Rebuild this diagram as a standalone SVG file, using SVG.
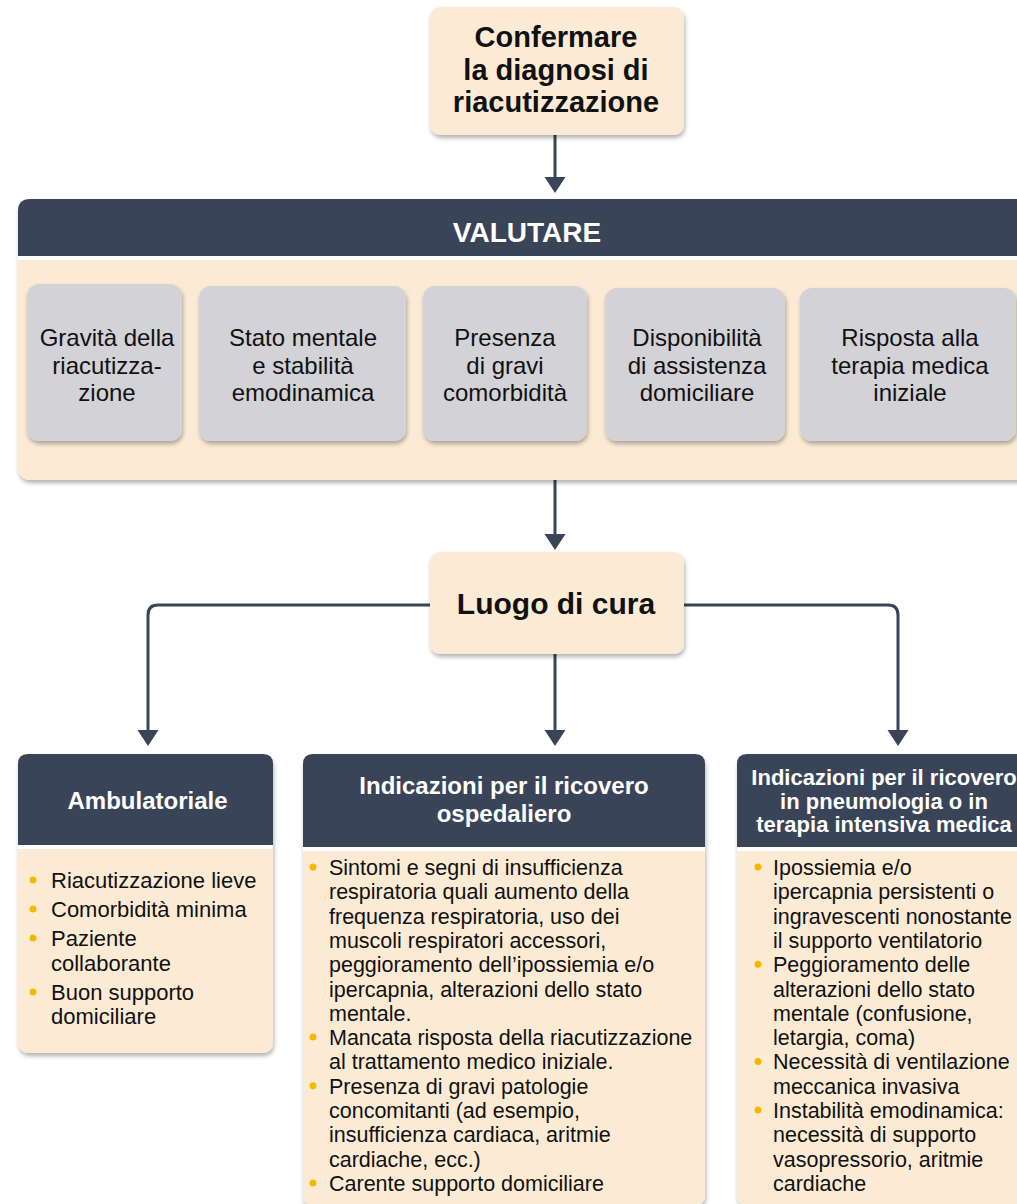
<svg xmlns="http://www.w3.org/2000/svg" width="1017" height="1204" viewBox="0 0 1017 1204">
<style>
text{font-family:"Liberation Sans",Arial,Helvetica,sans-serif;fill:#111}
.b{font-weight:bold}
.w{fill:#fff;font-weight:bold}
.c{text-anchor:middle}
.cream{fill:#fbebd5}
.navy{fill:#3a4459}
.grey{fill:#d3d2d7}
.t22{font-size:22px}
.t21{font-size:21.5px}
.t24{font-size:24px}
.dot{fill:#f5b800}
.con{fill:none;stroke:#3a4459;stroke-width:3;marker-end:url(#ah)}
</style>
<defs>
<filter id="sh" x="-10%" y="-10%" width="125%" height="130%"><feDropShadow dx="1" dy="3" stdDeviation="2" flood-color="#000" flood-opacity="0.3"/></filter>
<marker id="ah" markerUnits="userSpaceOnUse" markerWidth="17" markerHeight="22" viewBox="0 -11 17 22" refX="12" refY="0" orient="auto"><path d="M0,-10.5 L16,0 L0,10.5 Z" fill="#3a4459"/></marker>
</defs>
<rect width="1017" height="1204" fill="#fff"/>

<g id="connectors">
<path class="con" d="M555,135 V189"/>
<path class="con" d="M555,480 V546"/>
<path class="con" d="M430,605 H158 Q148,605 148,615 V742"/>
<path class="con" d="M684,605 H888 Q898,605 898,615 V742"/>
<path class="con" d="M555,654 V742"/>
</g>

<g id="confermare">
<rect class="cream" x="430" y="7" width="254" height="128" rx="10" filter="url(#sh)"/>
<text class="b c" x="556" y="47" font-size="29">Confermare</text>
<text class="b c" x="556" y="79.5" font-size="29">la diagnosi di</text>
<text class="b c" x="556" y="112" font-size="29">riacutizzazione</text>
</g>

<g id="valutare">
<rect class="cream" x="18" y="199" width="1030" height="281" rx="12" filter="url(#sh)"/>
<rect x="18" y="256" width="1030" height="4" fill="#fff"/>
<path class="navy" d="M18,256 V211 Q18,199 30,199 H1048 V256 Z"/>
<text class="w c" x="527" y="242" font-size="28">VALUTARE</text>
</g>

<g id="gravita">
<rect class="grey" x="27" y="284" width="155" height="157" rx="12" filter="url(#sh)"/>
<text class="c t24" x="107" y="346">Gravità della</text>
<text class="c t24" x="107" y="373.5">riacutizza-</text>
<text class="c t24" x="107" y="401">zione</text>
</g>
<g id="stato">
<rect class="grey" x="199" y="286" width="207" height="155" rx="12" filter="url(#sh)"/>
<text class="c t24" x="303" y="346">Stato mentale</text>
<text class="c t24" x="303" y="373.5">e stabilità</text>
<text class="c t24" x="303" y="401">emodinamica</text>
</g>
<g id="presenza">
<rect class="grey" x="423" y="286" width="164" height="155" rx="12" filter="url(#sh)"/>
<text class="c t24" x="505" y="346">Presenza</text>
<text class="c t24" x="505" y="373.5">di gravi</text>
<text class="c t24" x="505" y="401">comorbidità</text>
</g>
<g id="disponibilita">
<rect class="grey" x="605" y="288" width="180" height="153" rx="12" filter="url(#sh)"/>
<text class="c t24" x="697" y="346">Disponibilità</text>
<text class="c t24" x="697" y="373.5">di assistenza</text>
<text class="c t24" x="697" y="401">domiciliare</text>
</g>
<g id="risposta">
<rect class="grey" x="800" y="288" width="216" height="153" rx="12" filter="url(#sh)"/>
<text class="c t24" x="910" y="346">Risposta alla</text>
<text class="c t24" x="910" y="373.5">terapia medica</text>
<text class="c t24" x="910" y="401">iniziale</text>
</g>

<g id="luogo">
<rect class="cream" x="430" y="552" width="254" height="102" rx="10" filter="url(#sh)"/>
<text class="b c" x="556" y="614" font-size="30">Luogo di cura</text>
</g>

<g id="ambulatoriale">
<rect class="cream" x="18" y="754" width="255" height="299" rx="10" filter="url(#sh)"/>
<rect x="18" y="845" width="255" height="4" fill="#fff"/>
<path class="navy" d="M18,845 V764 Q18,754 28,754 H263 Q273,754 273,764 V845 Z"/>
<text class="w c" x="147.5" y="809" font-size="24">Ambulatoriale</text>
<circle class="dot" cx="33" cy="880" r="3.5"/>
<circle class="dot" cx="33" cy="909" r="3.5"/>
<circle class="dot" cx="33" cy="938" r="3.5"/>
<circle class="dot" cx="33" cy="992" r="3.5"/>
<text class="t22" x="51" y="888">Riacutizzazione lieve</text>
<text class="t22" x="51" y="917">Comorbidità minima</text>
<text class="t22" x="51" y="946">Paziente</text>
<text class="t22" x="51" y="971">collaborante</text>
<text class="t22" x="51" y="1000">Buon supporto</text>
<text class="t22" x="51" y="1024">domiciliare</text>
</g>

<g id="ospedaliero">
<rect class="cream" x="303" y="754" width="402" height="452" rx="10" filter="url(#sh)"/>
<rect x="303" y="847" width="402" height="4" fill="#fff"/>
<path class="navy" d="M303,847 V764 Q303,754 313,754 H695 Q705,754 705,764 V847 Z"/>
<text class="w c" x="504" y="794" font-size="24">Indicazioni per il ricovero</text>
<text class="w c" x="504" y="822" font-size="24">ospedaliero</text>
<circle class="dot" cx="313" cy="867" r="3.5"/>
<circle class="dot" cx="313" cy="1037.1" r="3.5"/>
<circle class="dot" cx="313" cy="1085.7" r="3.5"/>
<circle class="dot" cx="313" cy="1182.9" r="3.5"/>
<text class="t21" x="329" y="875">Sintomi e segni di insufficienza</text>
<text class="t21" x="329" y="899.3">respiratoria quali aumento della</text>
<text class="t21" x="329" y="923.6">frequenza respiratoria, uso dei</text>
<text class="t21" x="329" y="947.9">muscoli respiratori accessori,</text>
<text class="t21" x="329" y="972.2">peggioramento dell’ipossiemia e/o</text>
<text class="t21" x="329" y="996.5">ipercapnia, alterazioni dello stato</text>
<text class="t21" x="329" y="1020.8">mentale.</text>
<text class="t21" x="329" y="1045.1">Mancata risposta della riacutizzazione</text>
<text class="t21" x="329" y="1069.4">al trattamento medico iniziale.</text>
<text class="t21" x="329" y="1093.7">Presenza di gravi patologie</text>
<text class="t21" x="329" y="1118">concomitanti (ad esempio,</text>
<text class="t21" x="329" y="1142.3">insufficienza cardiaca, aritmie</text>
<text class="t21" x="329" y="1166.6">cardiache, ecc.)</text>
<text class="t21" x="329" y="1190.9">Carente supporto domiciliare</text>
</g>

<g id="pneumologia">
<rect class="cream" x="737" y="754" width="310" height="452" rx="10" filter="url(#sh)"/>
<rect x="737" y="847" width="310" height="4" fill="#fff"/>
<path class="navy" d="M737,847 V764 Q737,754 747,754 H1047 V847 Z"/>
<text class="w c" x="884" y="785" font-size="22">Indicazioni per il ricovero</text>
<text class="w c" x="884" y="809" font-size="22">in pneumologia o in</text>
<text class="w c" x="884" y="832" font-size="22">terapia intensiva medica</text>
<circle class="dot" cx="758" cy="867" r="3.5"/>
<circle class="dot" cx="758" cy="964.2" r="3.5"/>
<circle class="dot" cx="758" cy="1061.4" r="3.5"/>
<circle class="dot" cx="758" cy="1110" r="3.5"/>
<text class="t21" x="773" y="875">Ipossiemia e/o</text>
<text class="t21" x="773" y="899.3">ipercapnia persistenti o</text>
<text class="t21" x="773" y="923.6">ingravescenti nonostante</text>
<text class="t21" x="773" y="947.9">il supporto ventilatorio</text>
<text class="t21" x="773" y="972.2">Peggioramento delle</text>
<text class="t21" x="773" y="996.5">alterazioni dello stato</text>
<text class="t21" x="773" y="1020.8">mentale (confusione,</text>
<text class="t21" x="773" y="1045.1">letargia, coma)</text>
<text class="t21" x="773" y="1069.4">Necessità di ventilazione</text>
<text class="t21" x="773" y="1093.7">meccanica invasiva</text>
<text class="t21" x="773" y="1118">Instabilità emodinamica:</text>
<text class="t21" x="773" y="1142.3">necessità di supporto</text>
<text class="t21" x="773" y="1166.6">vasopressorio, aritmie</text>
<text class="t21" x="773" y="1190.9">cardiache</text>
</g>
</svg>
